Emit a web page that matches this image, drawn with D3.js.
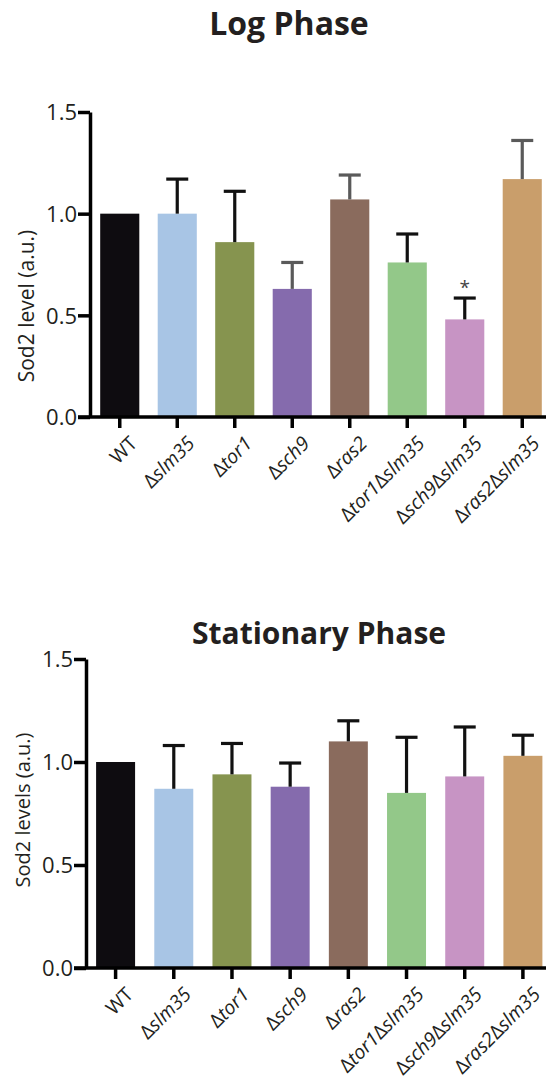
<!DOCTYPE html>
<html>
<head>
<meta charset="utf-8">
<script src="https://cdn.jsdelivr.net/npm/d3@7"></script>
<style>
  body { margin: 0; background: #fff; }
  text { font-family: "Open Sans", sans-serif; fill: #231f20; }
</style>
</head>
<body>
<div id="chart"></div>
<script>
// strains (same order in both panels)
const strains = ["WT", "Δslm35", "Δtor1", "Δsch9", "Δras2", "Δtor1Δslm35", "Δsch9Δslm35", "Δras2Δslm35"];
const yTicks = [0, 0.5, 1.0, 1.5];

// log phase: mean and upper error (SD)
const logMean = [1.00, 1.00, 0.86, 0.63, 1.07, 0.76, 0.48, 1.17];
const logErr  = [0, 0.17, 0.25, 0.13, 0.12, 0.14, 0.105, 0.19];
const logStars = ["", "", "", "", "", "", "*", ""];

// stationary phase
const statMean = [1.00, 0.87, 0.94, 0.88, 1.10, 0.85, 0.93, 1.03];
const statErr  = [0, 0.21, 0.15, 0.115, 0.10, 0.27, 0.24, 0.10];

// styling
const barColors = ["#0e0c10", "#a8c5e5", "#86944f", "#856bad", "#8a6b5d", "#93c889", "#c794c4", "#c99e6b"];
const logErrColors = ["#111", "#111", "#111", "#5a5a5a", "#5a5a5a", "#111", "#111", "#5a5a5a"];

const W = 546, H = 1081;
const svg = d3.select("#chart").append("svg")
  .attr("width", W)
  .attr("height", H);

function panel(opts) {
  const g = svg.append("g");

  const x = d3.scaleBand()
    .domain(strains)
    .range([opts.x0, opts.x1])
    .paddingInner(opts.pad)
    .paddingOuter(opts.pad / 2);

  const y = d3.scaleLinear()
    .domain([0, 1.5])
    .range([opts.yBottom, opts.yTop]);

  // title
  g.append("text")
    .attr("x", opts.titleX)
    .attr("y", opts.titleY)
    .attr("text-anchor", "middle")
    .style("font-size", opts.titleSize + "px")
    .style("font-weight", "700")
    .text(opts.title);

  // bars
  const data = strains.map((s, i) => ({ s: s, m: opts.mean[i], e: opts.err[i], i: i }));
  g.selectAll("rect.bar")
    .data(data)
    .enter()
    .append("rect")
    .attr("class", "bar")
    .attr("x", d => x(d.s))
    .attr("width", x.bandwidth())
    .attr("y", d => y(d.m))
    .attr("height", d => y(0) - y(d.m))
    .style("fill", d => barColors[d.i]);

  // error bars (upper only)
  const eb = g.selectAll("g.err")
    .data(data.filter(d => d.e > 0))
    .enter()
    .append("g")
    .attr("class", "err")
    .style("stroke", d => opts.errColors[d.i])
    .style("stroke-width", 3.2);
  eb.append("line")
    .attr("x1", d => x(d.s) + x.bandwidth() / 2)
    .attr("x2", d => x(d.s) + x.bandwidth() / 2)
    .attr("y1", d => y(d.m))
    .attr("y2", d => y(d.m + d.e));
  eb.append("line")
    .attr("x1", d => x(d.s) + x.bandwidth() / 2 - 11)
    .attr("x2", d => x(d.s) + x.bandwidth() / 2 + 11)
    .attr("y1", d => y(d.m + d.e))
    .attr("y2", d => y(d.m + d.e));

  // significance stars
  if (opts.stars) {
    g.selectAll("text.star")
      .data(data.filter(d => opts.stars[d.i]))
      .enter()
      .append("text")
      .attr("class", "star")
      .attr("x", d => x(d.s) + x.bandwidth() / 2)
      .attr("y", d => y(d.m + d.e) - 4)
      .attr("text-anchor", "middle")
      .style("font-size", "19px")
      .style("fill", "#444")
      .text(d => opts.stars[d.i]);
  }

  // y axis
  const yAxis = g.append("g")
    .attr("transform", `translate(${opts.axisX},0)`)
    .call(d3.axisLeft(y).tickValues(yTicks).tickFormat(d3.format(".1f")).tickSize(12).tickSizeOuter(0));
  yAxis.selectAll("path, line").style("stroke", "#000").style("stroke-width", 3.5);
  yAxis.selectAll("text").style("font-size", "22px").style("fill", "#231f20").attr("x", -13).attr("dy", "0.36em");

  // x axis
  const xAxis = g.append("g")
    .attr("transform", `translate(0,${opts.yBottom})`)
    .call(d3.axisBottom(x).tickSize(11).tickSizeOuter(0).tickFormat(""));
  xAxis.select(".domain").remove();
  xAxis.selectAll("line").style("stroke", "#000").style("stroke-width", 3.5);
  g.append("line")
    .attr("x1", opts.axisX - 12)
    .attr("x2", W)
    .attr("y1", opts.yBottom)
    .attr("y2", opts.yBottom)
    .style("stroke", "#000")
    .style("stroke-width", 3.5);

  // rotated strain labels, gene names in italics
  const lab = g.selectAll("text.xlab")
    .data(strains)
    .enter()
    .append("text")
    .attr("class", "xlab")
    .attr("text-anchor", "end")
    .attr("transform", d => `translate(${x(d) + x.bandwidth() / 2 + 9},${opts.yBottom + 18}) rotate(-45)`)
    .attr("dy", "0.7em")
    .style("font-size", "19.5px");
  lab.each(function(d) {
    const t = d3.select(this);
    if (d.indexOf("Δ") < 0) { t.text(d); return; }
    d.split("Δ").filter(p => p).forEach(p => {
      t.append("tspan").text("Δ");
      t.append("tspan").style("font-style", "italic").text(p);
    });
  });

  // y axis title
  g.append("text")
    .attr("transform", `translate(${opts.ylabX},${opts.ylabY}) rotate(-90)`)
    .attr("text-anchor", "middle")
    .style("font-size", opts.ylabSize + "px")
    .text(opts.ylab);
}

panel({
  title: "Log Phase", titleX: 289, titleY: 35, titleSize: 32,
  mean: logMean, err: logErr, errColors: logErrColors, stars: logStars,
  x0: 91, x1: 551, pad: 0.32, axisX: 90,
  yTop: 112, yBottom: 417,
  ylab: "Sod2 level (a.u.)", ylabX: 34, ylabY: 306, ylabSize: 21
});

panel({
  title: "Stationary Phase", titleX: 319, titleY: 644, titleSize: 30,
  mean: statMean, err: statErr, errColors: strains.map(() => "#111"), stars: null,
  x0: 86.5, x1: 552, pad: 0.33, axisX: 86,
  yTop: 659, yBottom: 968,
  ylab: "Sod2 levels (a.u.)", ylabX: 30, ylabY: 810, ylabSize: 20
});
</script>
</body>
</html>
